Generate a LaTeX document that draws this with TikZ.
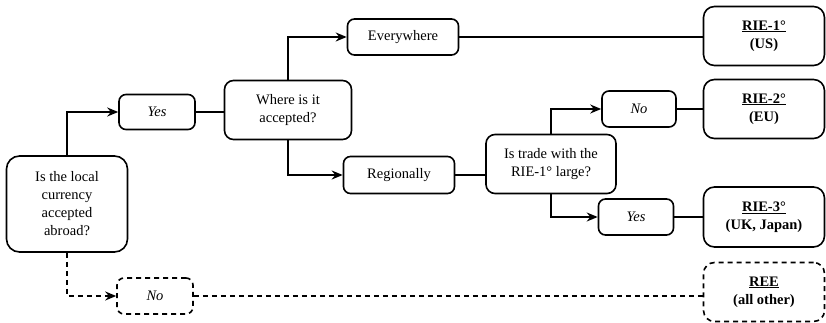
\documentclass[tikz,border=0pt]{standalone}
\usepackage{fontspec}
\setmainfont{Liberation Serif}
\usetikzlibrary{arrows.meta}
\begin{document}
\begin{tikzpicture}[x=1pt,y=-1pt,
  box/.style={draw, line width=1.6pt, rounded corners=#1, align=center, inner sep=2pt,
    font=\fontsize{14.5}{18}\selectfont},
  box/.default=7pt,
  conn/.style={line width=1.6pt},
  arr/.style={conn, -{Stealth[length=11pt,width=9pt]}},
  dsh/.style={dash pattern=on 5pt off 4pt}]
\useasboundingbox (0,0) rectangle (826,323);
\node[box=13pt, minimum width=121pt, minimum height=96pt] (A) at (67,204) {Is the local\\currency\\accepted\\abroad?};
\node[box, minimum width=76pt, minimum height=35pt] (Y1) at (157,112) {\itshape Yes};
\node[box=9pt, minimum width=127pt, minimum height=59pt] (W) at (288,110) {Where is it\\accepted?};
\node[box, minimum width=111pt, minimum height=36pt] (E) at (403,37) {Everywhere};
\node[box=11pt, minimum width=121pt, minimum height=59pt] (R1) at (764,36) {\underline{\textbf{RIE-1°}}\\\textbf{(US)}};
\node[box, minimum width=111pt, minimum height=37pt] (Rg) at (399,175) {Regionally};
\node[box=9pt, minimum width=130pt, minimum height=59pt] (T) at (551,164) {Is trade with the\\RIE-1° large?};
\node[box, minimum width=74pt, minimum height=36pt] (N2) at (639,109) {\itshape No};
\node[box=11pt, minimum width=121pt, minimum height=59pt] (R2) at (764,109) {\underline{\textbf{RIE-2°}}\\\textbf{(EU)}};
\node[box, minimum width=75pt, minimum height=36pt] (Y2) at (636,217) {\itshape Yes};
\node[box=11pt, minimum width=121pt, minimum height=60pt] (R3) at (764,217) {\underline{\textbf{RIE-3°}}\\\textbf{(UK, Japan)}};
\node[box=11pt, dsh, minimum width=121pt, minimum height=59pt] (REE) at (764,292) {\underline{\textbf{REE}}\\\textbf{(all other)}};
\node[box, dsh, minimum width=76pt, minimum height=36pt] (N1) at (155,296) {\itshape No};
\draw[arr] (A.north) |- (Y1.west);
\draw[conn] (Y1.east) -- (Y1.east -| W.west);
\draw[arr] (W.north) |- (E.west);
\draw[conn] (E.east) -- (E.east -| R1.west);
\draw[arr] (W.south) |- (Rg.west);
\draw[conn] (Rg.east) -- (Rg.east -| T.west);
\draw[arr] (T.north) |- (N2.west);
\draw[conn] (N2.east) -- (N2.east -| R2.west);
\draw[arr] (T.south) |- (Y2.west);
\draw[conn] (Y2.east) -- (Y2.east -| R3.west);
\draw[arr, dsh] (A.south) |- (N1.west);
\draw[conn, dsh] (N1.east) -- (N1.east -| REE.west);
\end{tikzpicture}
\end{document}
